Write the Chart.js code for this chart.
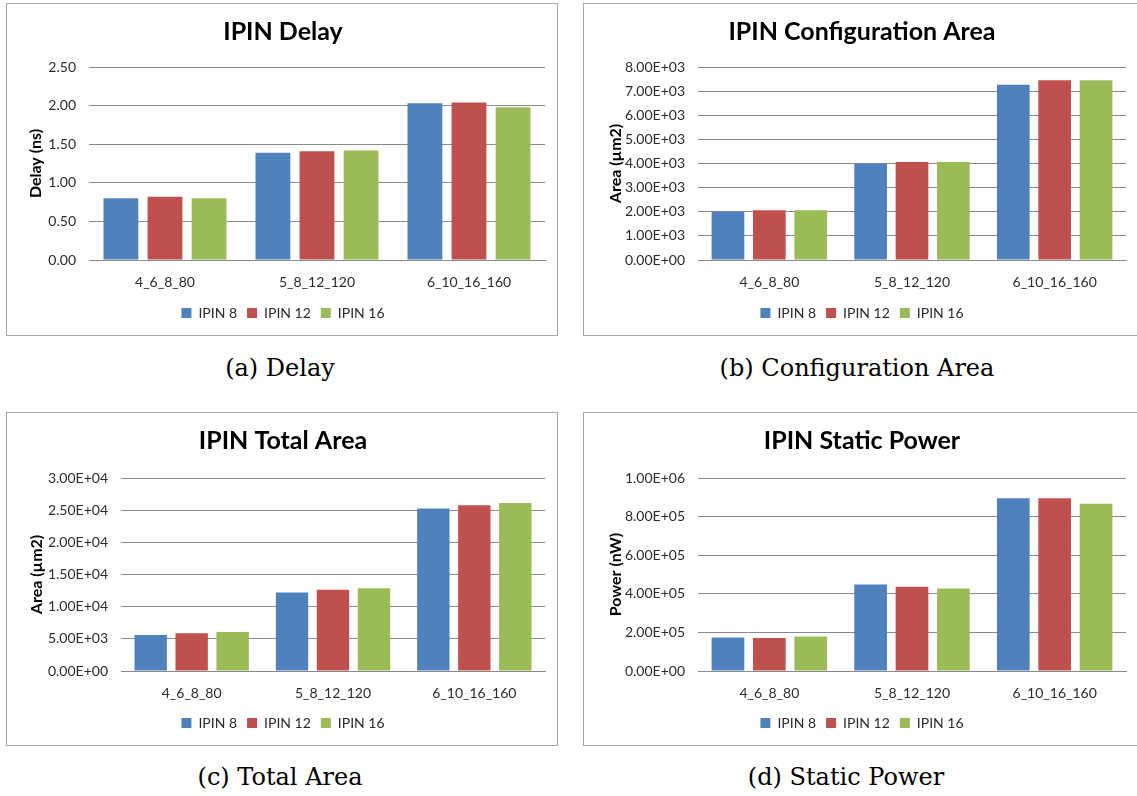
<!DOCTYPE html>
<html>
<head>
<meta charset="utf-8">
<script src="https://cdn.jsdelivr.net/npm/chart.js@4.4.1/dist/chart.umd.min.js"></script>
<style>
  body { margin: 0; background: #fff; width: 1137px; height: 796px; overflow: hidden; position: relative; }
  .panel { position: absolute; border: 1px solid #a6a6a6; background: #fff; }
  .panel canvas { display: block; }
  .cap { position: absolute; width: 560px; text-align: center; font-family: "DejaVu Serif", serif; font-size: 24px; line-height: 30px; color: #000; }
</style>
</head>
<body>
<div class="panel" style="left:6px;top:3px"><canvas id="delayChart" width="550" height="331"></canvas></div>
<div class="panel" style="left:583px;top:3px"><canvas id="configChart" width="556" height="331"></canvas></div>
<div class="panel" style="left:6px;top:412px"><canvas id="totalChart" width="550" height="332"></canvas></div>
<div class="panel" style="left:583px;top:412px"><canvas id="powerChart" width="556" height="332"></canvas></div>

<div class="cap" style="left:0;top:353px">(a) Delay</div>
<div class="cap" style="left:577px;top:353px">(b) Configuration Area</div>
<div class="cap" style="left:0;top:762px">(c) Total Area</div>
<div class="cap" style="left:566px;top:762px">(d) Static Power</div>

<script>
const categories = ['4_6_8_80', '5_8_12_120', '6_10_16_160'];
const seriesNames = ['IPIN 8', 'IPIN 12', 'IPIN 16'];
const seriesColors = ['#4F81BD', '#C0504D', '#9BBB59'];

// delay (ns)
const delay8 = [0.80, 1.39, 2.03];
const delay12 = [0.82, 1.41, 2.04];
const delay16 = [0.80, 1.42, 1.98];

// configuration area (um2)
const config8 = [2000, 3990, 7260];
const config12 = [2060, 4060, 7450];
const config16 = [2060, 4060, 7450];

// total area (um2)
const total8 = [5590, 12200, 25240];
const total12 = [5850, 12620, 25760];
const total16 = [6050, 12880, 26120];

// static power (nW)
const power8 = [174000, 448000, 895000];
const power12 = [171000, 436000, 895000];
const power16 = [179000, 428000, 867000];

const delayTicks = { max: 2.5, step: 0.5 };
const configTicks = { max: 8000, step: 1000 };
const totalTicks = { max: 30000, step: 5000 };
const powerTicks = { max: 1000000, step: 200000 };

const fixed2 = (v) => Number(v).toFixed(2);
const sci = (v) => {
  if (v === 0) return '0.00E+00';
  let exp = Math.floor(Math.log10(Math.abs(v)));
  let m = v / Math.pow(10, exp);
  if (Math.round(m * 100) >= 1000) { m /= 10; exp += 1; }
  const sign = exp < 0 ? '-' : '+';
  return m.toFixed(2) + 'E' + sign + String(Math.abs(exp)).padStart(2, '0');
};

const FONT = 'Lato, "Open Sans", sans-serif';
const TEXT = '#2b2b2b';
const GRID = '#8a8a8a';

function barChart(id, o) {
  new Chart(document.getElementById(id), {
    type: 'bar',
    data: {
      labels: categories,
      datasets: seriesNames.map((name, i) => ({
        label: name,
        data: o.values[i],
        backgroundColor: seriesColors[i],
        borderWidth: 0,
        categoryPercentage: 0.87,
        barPercentage: 0.79,
      })),
    },
    options: {
      responsive: false,
      animation: false,
      devicePixelRatio: 1,
      layout: { padding: { left: 14, right: o.padRight, top: 0, bottom: 5 } },
      plugins: {
        title: {
          display: true,
          text: o.title,
          color: '#000',
          font: { family: FONT, size: 25, weight: 'bold' },
          padding: { top: 13, bottom: o.titleGap },
        },
        legend: {
          position: 'bottom',
          labels: { boxWidth: 10, boxHeight: 10, padding: 10, color: TEXT, font: { family: FONT, size: 14 } },
        },
        tooltip: { enabled: false },
      },
      scales: {
        x: {
          grid: { display: false, drawTicks: false },
          border: { display: true, color: GRID },
          ticks: { color: TEXT, padding: 14, font: { family: FONT, size: 14 } },
          afterFit: (s) => { s.height = o.xHeight; },
        },
        y: {
          min: 0,
          max: o.ticks.max,
          ticks: { stepSize: o.ticks.step, callback: o.fmt, color: TEXT, padding: 13, font: { family: FONT, size: 14 } },
          grid: { color: GRID, drawTicks: false },
          border: { display: false },
          title: {
            display: true,
            text: o.yTitle,
            color: '#000',
            font: { family: FONT, size: 16, weight: 'bold' },
            padding: { top: o.yTitlePad, bottom: 0 },
          },
          afterFit: (s) => { s.width = o.yWidth; },
        },
      },
    },
  });
}

barChart('delayChart', {
  title: 'IPIN Delay', yTitle: 'Delay (ns)',
  values: [delay8, delay12, delay16], ticks: delayTicks, fmt: fixed2,
  yWidth: 68, yTitlePad: 5, padRight: 12, titleGap: 20, xHeight: 36,
});
barChart('configChart', {
  title: 'IPIN Configuration Area', yTitle: 'Area (\u00b5m2)',
  values: [config8, config12, config16], ticks: configTicks, fmt: sci,
  yWidth: 100, yTitlePad: 8, padRight: 14, titleGap: 20, xHeight: 36,
});
barChart('totalChart', {
  title: 'IPIN Total Area', yTitle: 'Area (\u00b5m2)',
  values: [total8, total12, total16], ticks: totalTicks, fmt: sci,
  yWidth: 100, yTitlePad: 6, padRight: 12, titleGap: 22, xHeight: 35,
});
barChart('powerChart', {
  title: 'IPIN Static Power', yTitle: 'Power (nW)',
  values: [power8, power12, power16], ticks: powerTicks, fmt: sci,
  yWidth: 100, yTitlePad: 8, padRight: 14, titleGap: 22, xHeight: 35,
});
</script>
</body>
</html>
